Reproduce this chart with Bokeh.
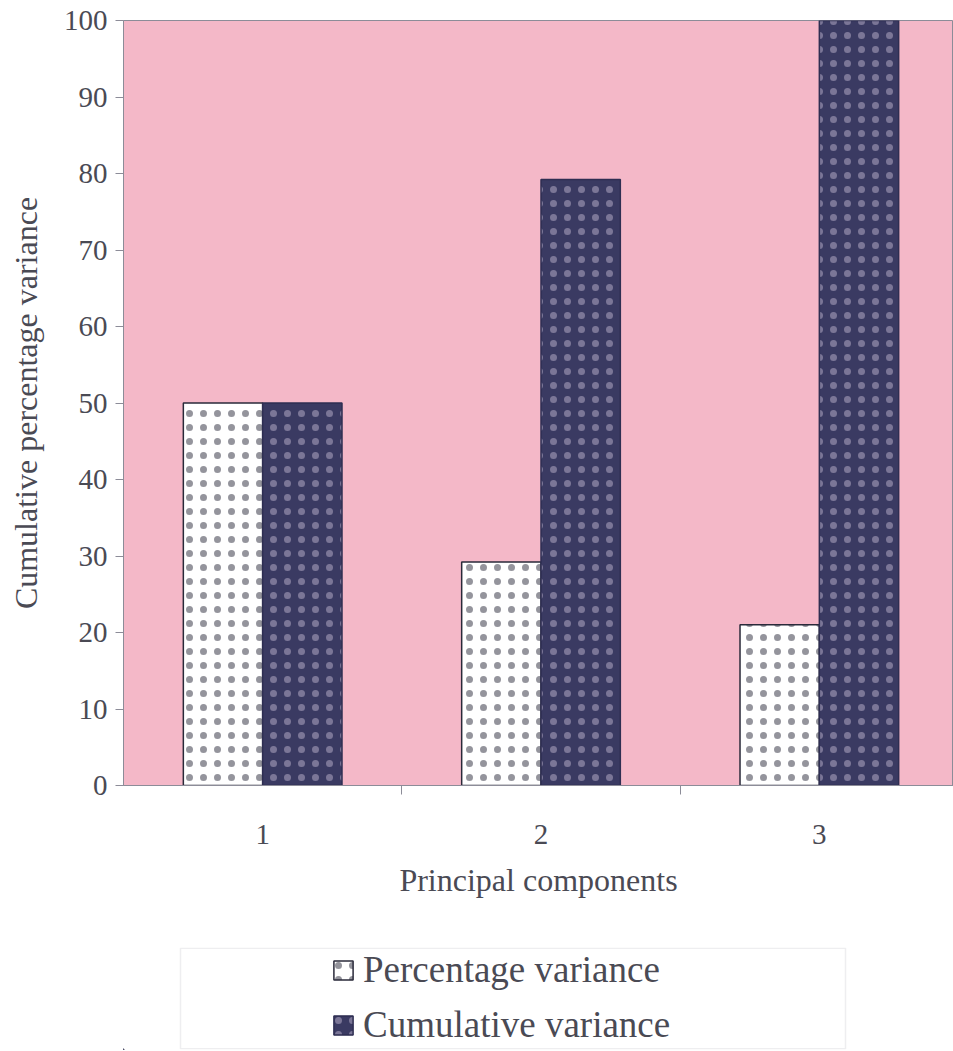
from bokeh.plotting import figure
from bokeh.models import Range1d, FixedTicker, Legend, LegendItem, ColumnDataSource, BoxAnnotation
from bokeh.layouts import column
from bokeh.transform import dodge
from bokeh.embed import file_html
from bokeh.resources import INLINE

# ---- data ----
components = [1, 2, 3]
percentage_variance = [50.0, 29.2, 21.0]
cumulative_variance = [50.0, 79.2, 100.0]
y_ticks = [0, 10, 20, 30, 40, 50, 60, 70, 80, 90, 100]
boundary_ticks = [1.5, 2.5]
series_labels = ["Percentage variance", "Cumulative variance"]

# ---- style ----
FONT = "Liberation Serif"
TEXT = "#4a4a54"
PINK = "#f4b8c8"
NAVY = "#3a3a62"
AXIS = "#8c8c98"
BAR_W = 0.285

source = ColumnDataSource(dict(pc=components, pct=percentage_variance, cum=cumulative_variance))

p = figure(width=953, height=930, x_range=Range1d(0.5, 3.482), y_range=Range1d(0, 100),
           output_backend="svg", toolbar_location=None,
           min_border_left=123, min_border_right=0, min_border_top=20, min_border_bottom=145,
           background_fill_color=PINK, border_fill_color="white", outline_line_color=AXIS)
p.grid.visible = False


def bars(fig, src):
    r1 = fig.vbar(x=dodge("pc", -BAR_W / 2, range=fig.x_range), top="pct", width=BAR_W, bottom=0,
                  source=src, fill_color="white", line_color="#2a2a3a", line_width=1.5,
                  hatch_pattern="dot", hatch_color="#2a2a3a", hatch_alpha=0.5,
                  hatch_scale=14, hatch_weight=0.5)
    r2 = fig.vbar(x=dodge("pc", BAR_W / 2, range=fig.x_range), top="cum", width=BAR_W, bottom=0,
                  source=src, fill_color=NAVY, line_color="#2e2e52", line_width=1.5,
                  hatch_pattern="dot", hatch_color="#c9bfd6", hatch_alpha=0.45,
                  hatch_scale=14, hatch_weight=0.5)
    return r1, r2


bars(p, source)

yax = p.yaxis[0]
yax.ticker = FixedTicker(ticks=y_ticks)
yax.axis_label = "Cumulative percentage variance"
yax.axis_label_text_font = FONT
yax.axis_label_text_font_size = "32px"
yax.axis_label_text_font_style = "normal"
yax.axis_label_text_color = TEXT
yax.axis_label_standoff = 17
yax.major_label_text_font = FONT
yax.major_label_text_font_size = "29px"
yax.major_label_text_color = TEXT
yax.major_label_standoff = 8
yax.major_tick_out = 8
yax.major_tick_in = 0
yax.major_tick_line_color = AXIS
yax.minor_tick_line_color = None
yax.axis_line_color = AXIS

xax = p.xaxis[0]
xax.ticker = FixedTicker(ticks=components, minor_ticks=boundary_ticks)
xax.axis_label = "Principal components"
xax.axis_label_text_font = FONT
xax.axis_label_text_font_size = "32px"
xax.axis_label_text_font_style = "normal"
xax.axis_label_text_color = TEXT
xax.axis_label_standoff = 15
xax.major_label_text_font = FONT
xax.major_label_text_font_size = "29px"
xax.major_label_text_color = TEXT
xax.major_label_standoff = 30
xax.major_tick_line_color = None
xax.major_tick_out = 0
xax.major_tick_in = 0
xax.minor_tick_line_color = AXIS
xax.minor_tick_out = 9
xax.minor_tick_in = 0
xax.axis_line_color = AXIS

# ---- legend panel ----
p2 = figure(width=953, height=121, x_range=Range1d(1000, 1830), y_range=Range1d(1000, 1102),
            output_backend="svg", toolbar_location=None,
            min_border_left=123, min_border_right=0, min_border_top=17, min_border_bottom=2,
            x_axis_location=None, y_axis_location=None,
            background_fill_color="white", border_fill_color="white",
            outline_line_color=None)
p2.grid.visible = False
l1, l2 = bars(p2, source)

p2.add_layout(BoxAnnotation(left=1057, right=1722, bottom=1000.7, top=1101.3,
                            fill_alpha=0, line_color="#c6c6cc", line_width=1.5))

legend = Legend(items=[LegendItem(label=series_labels[0], renderers=[l1]),
                       LegendItem(label=series_labels[1], renderers=[l2])],
                location=(208, 3), border_line_color=None, background_fill_alpha=0,
                label_text_font=FONT, label_text_font_size="37px", label_text_color=TEXT,
                glyph_width=24, glyph_height=24, spacing=12, label_standoff=8,
                padding=0, margin=0)
p2.add_layout(legend)

layout = column(p, p2, spacing=0)
open("out.html", "w").write(file_html(layout, INLINE))
